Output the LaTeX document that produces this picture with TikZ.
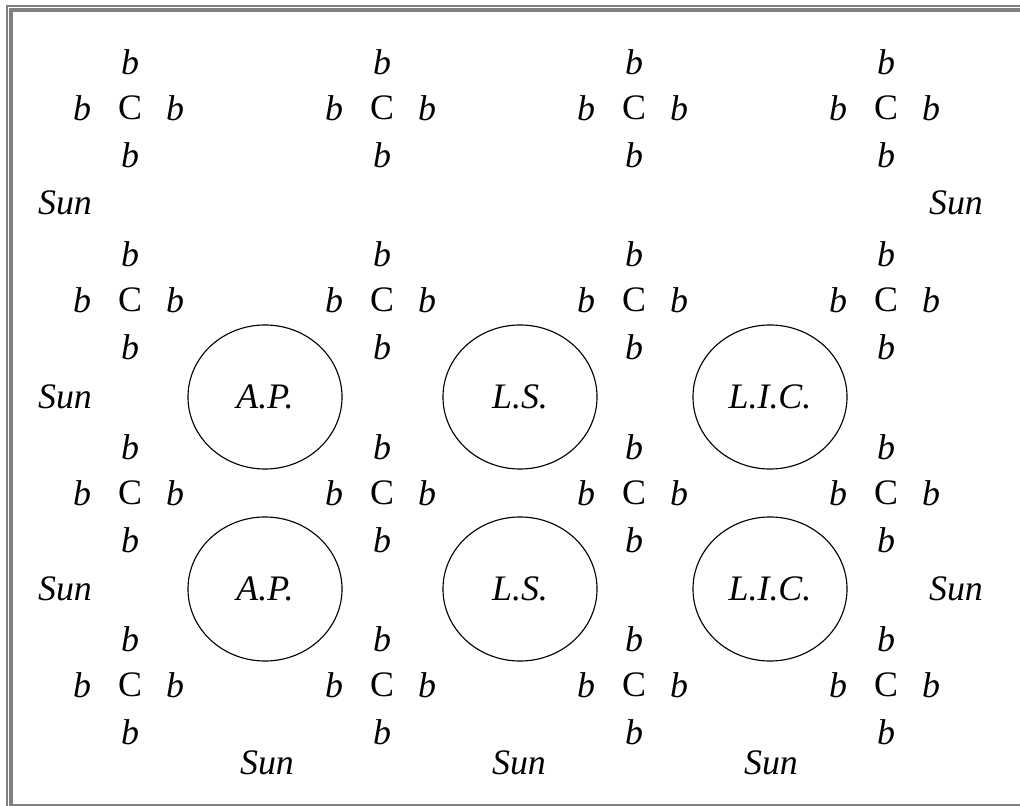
\documentclass[tikz,border=0pt]{standalone}
\usepackage{fontspec}
\setmainfont{Liberation Serif}
\usetikzlibrary{shapes.geometric}
\newcommand{\bigfont}{\fontsize{25.5}{30}\selectfont}

\begin{document}
\begin{tikzpicture}[x=0.025cm,y=-0.025cm]
    \tikzset{cell/.style = {inner sep=0pt, font=\bigfont}}
    \tikzset{bee/.style = {inner sep=0pt, font=\bigfont\itshape}}
    \tikzset{orb/.style = {shape=ellipse, draw, line width=0.8pt, inner sep=0pt,
                           minimum width=3.85cm, minimum height=3.6cm, font=\bigfont\itshape}}
    \tikzset{rim/.style = {fill=gray}}

    \useasboundingbox (0,0) rectangle (1020,806);

    % frame
    \fill[rim] (6,5) rectangle (8,806);
    \fill[rim] (6,5) rectangle (1020,7);
    \fill[rim] (9,8) rectangle (12.5,804);
    \fill[rim] (9,8) rectangle (1020,12.5);
    \fill[rim] (9,803.5) rectangle (1020,806);

    % crosses
    \foreach \col/\x in {1/130,2/382,3/634,4/886}{
      \foreach \row/\y in {1/108,2/300,3/493,4/685}{
        \node[cell] (c\col\row) at (\x,\y) {C};
        \node[bee] (n\col\row) at (\x,\y-46) {b};
        \node[bee] (s\col\row) at (\x,\y+47) {b};
        \node[bee] (w\col\row) at (\x-48,\y) {b};
        \node[bee] (e\col\row) at (\x+45,\y) {b};
      }
    }

    % circles
    \node[orb] (ap1) at (265,397) {A.P.};
    \node[orb] (ls1) at (520,397) {L.S.};
    \node[orb] (lic1) at (770,397) {L.I.C.};
    \node[orb] (ap2) at (265,589) {A.P.};
    \node[orb] (ls2) at (520,589) {L.S.};
    \node[orb] (lic2) at (770,589) {L.I.C.};

    % suns
    \node[bee] (sun1) at (65,203) {Sun};
    \node[bee] (sun2) at (956,203) {Sun};
    \node[bee] (sun3) at (65,397) {Sun};
    \node[bee] (sun4) at (65,589) {Sun};
    \node[bee] (sun5) at (956,589) {Sun};
    \node[bee] (sun6) at (267,763) {Sun};
    \node[bee] (sun7) at (519,763) {Sun};
    \node[bee] (sun8) at (771,763) {Sun};
\end{tikzpicture}
\end{document}
